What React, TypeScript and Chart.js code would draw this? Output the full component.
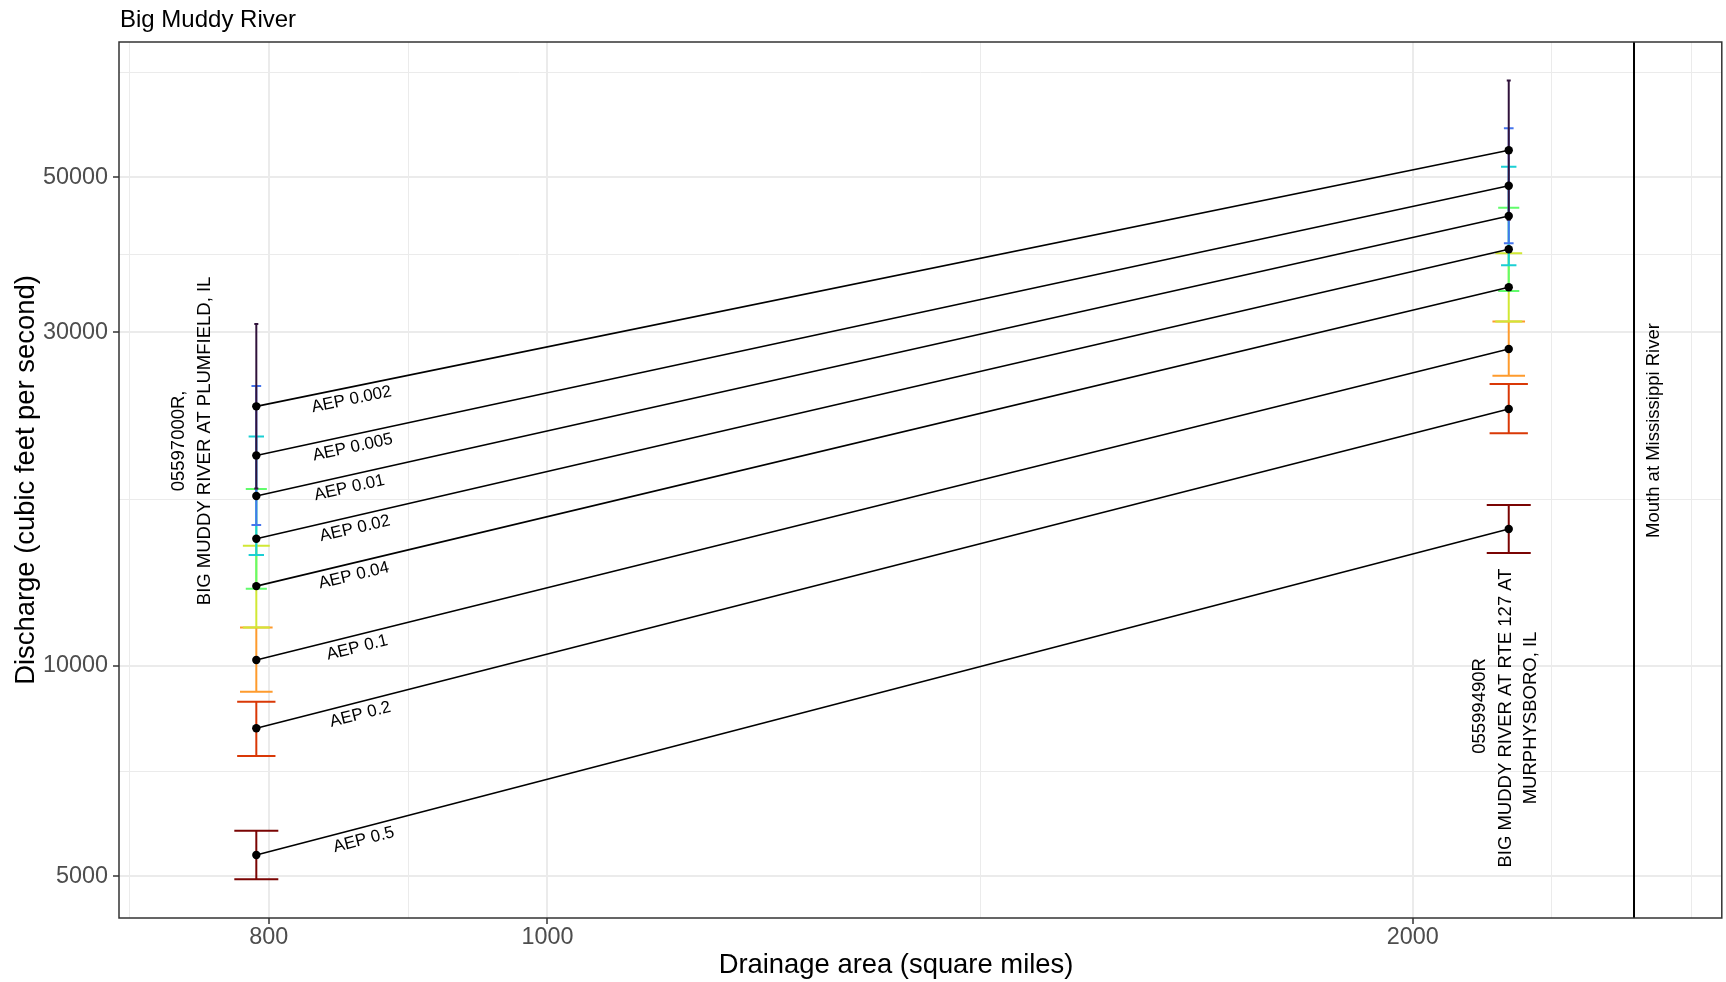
import React, { useEffect, useRef } from 'react';
import { Chart, registerables } from 'chart.js';

Chart.register(...registerables);

const FONT = '"Liberation Sans", Arial, Helvetica, sans-serif';

// ---- text ----
const chartTitle = 'Big Muddy River';
const xAxisTitle = 'Drainage area (square miles)';
const yAxisTitle = 'Discharge (cubic feet per second)';

// ---- data ----
const aepLevels = ['0.5', '0.2', '0.1', '0.04', '0.02', '0.01', '0.005', '0.002'];
const siteAreas = [792, 2160]; // drainage area, square miles
const plumfieldQ = [5366, 8145, 10200, 13010, 15210, 17510, 20010, 23520];
const plumfieldLow = [4954, 7433, 9190, 11350, 12900, 14410, 15910, 17940];
const plumfieldHigh = [5812, 8890, 11350, 14860, 17920, 21290, 25150, 30850];
const murphysboroQ = [15700, 23320, 28410, 34820, 39470, 44040, 48650, 54680];
const murphysboroLow = [14510, 21520, 26020, 31100, 34400, 37430, 40250, 43480];
const murphysboroHigh = [16990, 25320, 31100, 38950, 45260, 51800, 58770, 68780];
const mouthArea = 2388;
const mouthLabel = 'Mouth at Mississippi River';
const plumfieldLabel = ['05597000R,', 'BIG MUDDY RIVER AT PLUMFIELD, IL'];
const murphysboroLabel = ['05599490R', 'BIG MUDDY RIVER AT RTE 127 AT', 'MURPHYSBORO, IL'];

// ---- axes ----
const xMin = 709.5;
const xMax = 2562;
const yMin = 4360;
const yMax = 78100;
const xMajorTicks = [800, 1000, 2000];
const xMinorTicks = [715.5, 894.4, 1414.2, 2236.1, 2500];
const yMajorTicks = [5000, 10000, 30000, 50000];
const yMinorTicks = [7071, 17321, 38730, 70711];

// ---- annotation anchors (data coordinates) ----
const aepLabelAreas = [861.0, 858.7, 856.6, 854.4, 855.2, 851.5, 853.8, 853.1];
const plumfieldLabelAt = { x: 752.2, y: 20990 };
const murphysboroLabelAt = { x: 2154.3, y: 8426 };
const mouthLabelAt = { x: 2426, y: 21720 };

// ---- styles ----
const aepColors = ['#7A0403', '#D93806', '#FE9B2D', '#D1E834', '#61FC6C', '#1BCFD4', '#4675ED', '#30123B'];
const capWidths = [44, 38.3, 32.6, 26.9, 21.1, 15.4, 9.7, 4];
const murphysboroLineShift = [12, 0, 0]; // px along the text direction

function isMajor(list: number[], v: number) {
  return list.some((m) => Math.abs(m - v) < 1e-6);
}

function drawRotatedLines(
  ctx: CanvasRenderingContext2D,
  lines: string[],
  cx: number,
  cy: number,
  font: string,
  spacing: number,
  shifts?: number[]
) {
  ctx.save();
  ctx.translate(cx, cy);
  ctx.rotate(-Math.PI / 2);
  ctx.font = font;
  ctx.fillStyle = '#000';
  ctx.textAlign = 'center';
  ctx.textBaseline = 'middle';
  const n = lines.length;
  lines.forEach((t, i) => {
    ctx.fillText(t, shifts ? shifts[i] : 0, (i - (n - 1) / 2) * spacing);
  });
  ctx.restore();
}

const annotatePlugin = {
  id: 'annotate',
  beforeDatasetsDraw(chart: any) {
    const { ctx, chartArea, scales } = chart;
    const x = scales.x;
    const y = scales.y;
    ctx.save();
    ctx.beginPath();
    ctx.rect(chartArea.left, chartArea.top, chartArea.right - chartArea.left, chartArea.bottom - chartArea.top);
    ctx.clip();
    // mouth line
    const mx = x.getPixelForValue(mouthArea);
    ctx.strokeStyle = '#000';
    ctx.lineWidth = 2;
    ctx.beginPath();
    ctx.moveTo(mx, chartArea.top);
    ctx.lineTo(mx, chartArea.bottom);
    ctx.stroke();
    // error bars
    ctx.lineCap = 'butt';
    for (let i = 0; i < aepLevels.length; i++) {
      const sites = [
        { a: siteAreas[0], lo: plumfieldLow[i], hi: plumfieldHigh[i] },
        { a: siteAreas[1], lo: murphysboroLow[i], hi: murphysboroHigh[i] },
      ];
      const w = capWidths[i] / 2;
      ctx.strokeStyle = aepColors[i];
      ctx.lineWidth = 2;
      for (const s of sites) {
        const px = x.getPixelForValue(s.a);
        const yl = y.getPixelForValue(s.lo);
        const yh = y.getPixelForValue(s.hi);
        ctx.beginPath();
        ctx.moveTo(px, yh);
        ctx.lineTo(px, yl);
        ctx.moveTo(px - w, yh);
        ctx.lineTo(px + w, yh);
        ctx.moveTo(px - w, yl);
        ctx.lineTo(px + w, yl);
        ctx.stroke();
      }
    }
    ctx.restore();
  },
  afterDraw(chart: any) {
    const { ctx, chartArea, scales } = chart;
    const x = scales.x;
    const y = scales.y;
    ctx.save();
    // panel border
    ctx.strokeStyle = '#333333';
    ctx.lineWidth = 1.5;
    ctx.strokeRect(chartArea.left, chartArea.top, chartArea.right - chartArea.left, chartArea.bottom - chartArea.top);

    // AEP labels
    ctx.font = `17px ${FONT}`;
    ctx.fillStyle = '#000';
    ctx.textAlign = 'center';
    ctx.textBaseline = 'middle';
    for (let i = 0; i < aepLevels.length; i++) {
      const p1x = x.getPixelForValue(siteAreas[0]);
      const p1y = y.getPixelForValue(plumfieldQ[i]);
      const p2x = x.getPixelForValue(siteAreas[1]);
      const p2y = y.getPixelForValue(murphysboroQ[i]);
      const ang = Math.atan2(p2y - p1y, p2x - p1x);
      const xl = x.getPixelForValue(aepLabelAreas[i]);
      const t = (xl - p1x) / (p2x - p1x);
      const yl = p1y + t * (p2y - p1y);
      const off = 12.5;
      const cx = xl - Math.sin(ang) * off;
      const cy = yl + Math.cos(ang) * off;
      ctx.save();
      ctx.translate(cx, cy);
      ctx.rotate(ang);
      ctx.fillText(`AEP ${aepLevels[i]}`, 0, 0);
      ctx.restore();
    }

    // station labels
    const sf = `18.5px ${FONT}`;
    drawRotatedLines(ctx, plumfieldLabel, x.getPixelForValue(plumfieldLabelAt.x), y.getPixelForValue(plumfieldLabelAt.y), sf, 25.5);
    drawRotatedLines(
      ctx,
      murphysboroLabel,
      x.getPixelForValue(murphysboroLabelAt.x),
      y.getPixelForValue(murphysboroLabelAt.y),
      sf,
      25.5,
      murphysboroLineShift
    );
    drawRotatedLines(ctx, [mouthLabel], x.getPixelForValue(mouthLabelAt.x), y.getPixelForValue(mouthLabelAt.y), sf, 25.5);

    // chart title
    ctx.font = `24px ${FONT}`;
    ctx.fillStyle = '#000';
    ctx.textAlign = 'left';
    ctx.textBaseline = 'alphabetic';
    ctx.fillText(chartTitle, 120, 27);

    // axis titles
    ctx.font = `27.4px ${FONT}`;
    ctx.textAlign = 'center';
    ctx.fillText(xAxisTitle, 896, 973);
    ctx.save();
    ctx.translate(33.5, (chartArea.top + chartArea.bottom) / 2);
    ctx.rotate(-Math.PI / 2);
    ctx.fillText(yAxisTitle, 0, 0);
    ctx.restore();
    ctx.restore();
  },
};

function gridOpts(majors: number[]) {
  return {
    color: '#EBEBEB',
    lineWidth: (c: any) => (c.tick && isMajor(majors, c.tick.value) ? 2 : 1),
    tickLength: 6,
    tickWidth: 1.5,
    tickColor: (c: any) => (c.tick && isMajor(majors, c.tick.value) ? '#333333' : 'rgba(0,0,0,0)'),
    drawOnChartArea: true,
    drawTicks: true,
  };
}

export default function App() {
  const canvasRef = useRef<HTMLCanvasElement | null>(null);

  useEffect(() => {
    document.body.style.margin = '0';
    const canvas = canvasRef.current;
    if (!canvas) return;

    const datasets = aepLevels.map((a, i) => ({
      label: `AEP ${a}`,
      data: [
        { x: siteAreas[0], y: plumfieldQ[i] },
        { x: siteAreas[1], y: murphysboroQ[i] },
      ],
      borderColor: '#000',
      borderWidth: 1.6,
      pointRadius: 4.2,
      pointHoverRadius: 4.2,
      pointBackgroundColor: '#000',
      pointBorderWidth: 0,
      tension: 0,
      fill: false,
    }));

    const chart = new Chart(canvas, {
      type: 'line',
      data: { datasets },
      options: {
        animation: false,
        responsive: false,
        devicePixelRatio: 1,
        events: [],
        layout: { padding: { left: 0, right: 2, top: 42, bottom: 0 } },
        plugins: {
          legend: { display: false },
          tooltip: { enabled: false },
          title: { display: false },
        },
        scales: {
          x: {
            type: 'logarithmic',
            position: 'bottom',
            min: xMin,
            max: xMax,
            afterBuildTicks: (s: any) => {
              s.ticks = [...xMajorTicks, ...xMinorTicks].sort((a, b) => a - b).map((v) => ({ value: v }));
            },
            afterFit: (s: any) => {
              s.height = 64;
            },
            ticks: {
              autoSkip: false,
              maxRotation: 0,
              minRotation: 0,
              padding: 0,
              color: '#4D4D4D',
              font: { family: FONT, size: 23.4 },
              callback: (v: any) => (isMajor(xMajorTicks, Number(v)) ? String(Number(v)) : ''),
            },
            grid: gridOpts(xMajorTicks),
            border: { display: false },
          },
          y: {
            type: 'logarithmic',
            position: 'left',
            min: yMin,
            max: yMax,
            afterBuildTicks: (s: any) => {
              s.ticks = [...yMajorTicks, ...yMinorTicks].sort((a, b) => a - b).map((v) => ({ value: v }));
            },
            afterFit: (s: any) => {
              s.width = 119;
            },
            ticks: {
              autoSkip: false,
              padding: 5,
              color: '#4D4D4D',
              font: { family: FONT, size: 23.4 },
              callback: (v: any) => (isMajor(yMajorTicks, Number(v)) ? String(Number(v)) : ''),
            },
            grid: gridOpts(yMajorTicks),
            border: { display: false },
          },
        },
      } as any,
      plugins: [annotatePlugin],
    });

    return () => {
      chart.destroy();
    };
  }, []);

  return (
    <div style={{ width: 1726, height: 982, position: 'relative' }}>
      <canvas ref={canvasRef} width={1726} height={982} style={{ display: 'block' }} />
    </div>
  );
}
